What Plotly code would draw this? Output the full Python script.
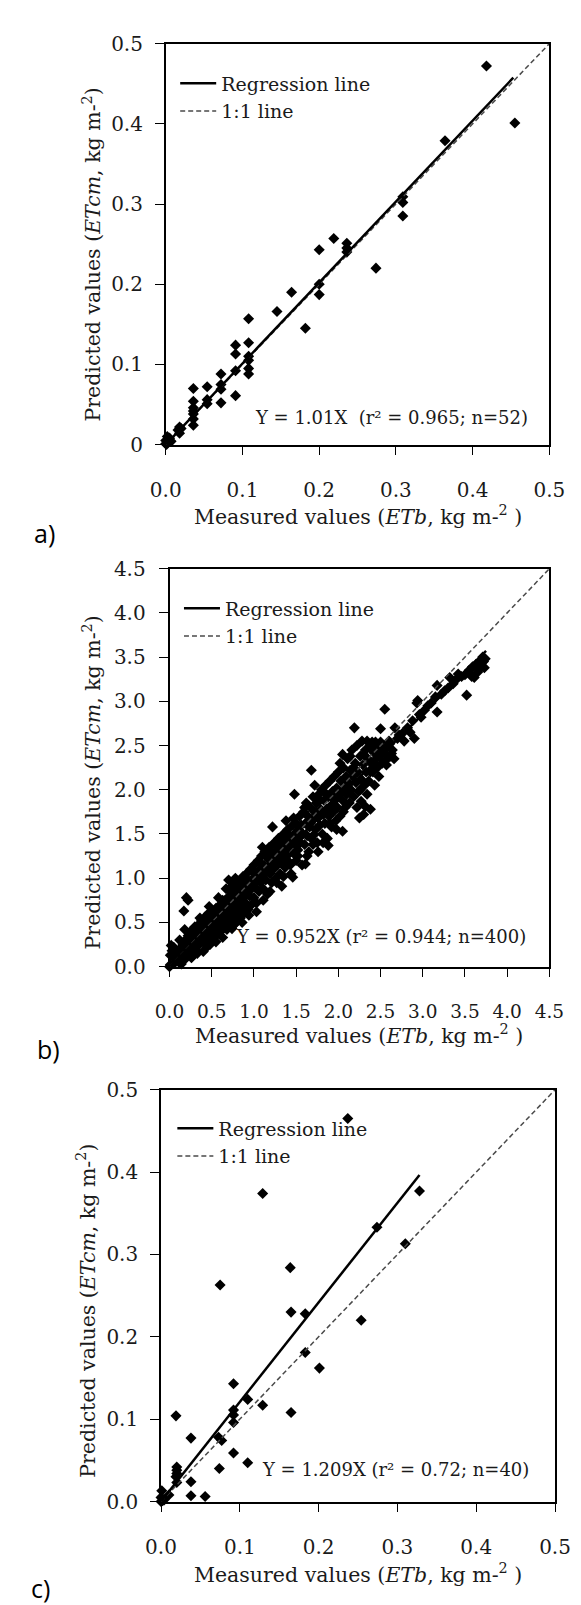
import plotly.graph_objects as go

# ---------------- data ----------------
# panel a (n=52)
a_meas = [0.418, 0.455, 0.364, 0.309, 0.309, 0.219, 0.236, 0.236, 0.200, 0.274,
          0.200, 0.200, 0.164, 0.145, 0.182, 0.108, 0.108, 0.108, 0.108, 0.108,
          0.091, 0.091, 0.091, 0.072, 0.072, 0.072, 0.054, 0.054, 0.036, 0.036,
          0.036, 0.036, 0.036, 0.036, 0.018, 0.016, 0.018, 0.000, 0.000, 0.003,
          0.005, 0.002, 0.007, 0.020, 0.036, 0.054, 0.072, 0.091, 0.108, 0.236,
          0.309, 0.001]
a_pred = [0.472, 0.401, 0.379, 0.309, 0.285, 0.257, 0.251, 0.245, 0.243, 0.220,
          0.200, 0.187, 0.190, 0.166, 0.145, 0.157, 0.127, 0.110, 0.095, 0.088,
          0.124, 0.113, 0.061, 0.088, 0.069, 0.052, 0.072, 0.051, 0.070, 0.054,
          0.046, 0.038, 0.032, 0.024, 0.022, 0.018, 0.014, 0.005, 0.001, 0.003,
          0.008, 0.010, 0.004, 0.020, 0.042, 0.056, 0.075, 0.092, 0.105, 0.240,
          0.302, 0.000]
a_slope = 1.01
a_fit_x = [0.0, 0.453]
a_label = "Y = 1.01X  (r² = 0.965; n=52)"

# panel b (n=400)
b_points = [
    (0.00, 0.00), (0.01, 0.02), (0.02, 0.24), (0.01, 0.13), (0.03, 0.18), (0.05, 0.10), (0.06, 0.04),
    (0.08, 0.12), (0.09, 0.07), (0.10, 0.15), (0.11, 0.05), (0.12, 0.20), (0.13, 0.10), (0.14, 0.03),
    (0.15, 0.14), (0.16, 0.25), (0.17, 0.18), (0.17, 0.63), (0.18, 0.08), (0.19, 0.30), (0.20, 0.78),
    (0.20, 0.22), (0.21, 0.12), (0.22, 0.75), (0.22, 0.35), (0.23, 0.27), (0.24, 0.18), (0.25, 0.40),
    (0.26, 0.31), (0.27, 0.22), (0.28, 0.14), (0.29, 0.36), (0.30, 0.28), (0.30, 0.45),
    (0.31, 0.20), (0.32, 0.38), (0.33, 0.33), (0.34, 0.47), (0.35, 0.25), (0.36, 0.40), (0.37, 0.30),
    (0.38, 0.52), (0.39, 0.35), (0.40, 0.17), (0.40, 0.44), (0.41, 0.28), (0.42, 0.56), (0.43, 0.38),
    (0.44, 0.48), (0.45, 0.33), (0.46, 0.60), (0.47, 0.42), (0.48, 0.25), (0.49, 0.52), (0.50, 0.38),
    (0.51, 0.62), (0.52, 0.32), (0.52, 0.47), (0.53, 0.55), (0.54, 0.42), (0.55, 0.66), (0.56, 0.50),
    (0.57, 0.37), (0.58, 0.58), (0.59, 0.45), (0.60, 0.70), (0.60, 0.52),
    (0.61, 0.40), (0.62, 0.62), (0.63, 0.33), (0.63, 0.75), (0.64, 0.55), (0.65, 0.47), (0.66, 0.68),
    (0.67, 0.88), (0.67, 0.58), (0.68, 0.42), (0.69, 0.78), (0.70, 0.62), (0.70, 0.98), (0.71, 0.52),
    (0.72, 0.72), (0.73, 0.85), (0.74, 0.43), (0.74, 0.65), (0.75, 0.95), (0.76, 0.58), (0.77, 0.78),
    (0.78, 0.70), (0.78, 1.00), (0.79, 0.50), (0.80, 0.88), (0.81, 0.62), (0.82, 0.95), (0.83, 0.75),
    (0.84, 0.55), (0.85, 0.85), (0.86, 0.68), (0.87, 1.02), (0.88, 0.78), (0.88, 0.60), (0.89, 0.92),
    (0.90, 0.72), (0.91, 1.05), (0.92, 0.85), (0.93, 0.65), (0.94, 0.95), (0.95, 0.80), (0.96, 1.10),
    (0.97, 0.70), (0.98, 0.90), (0.99, 1.00), (1.00, 0.78), (1.00, 1.15), (0.97, 0.88), (0.93, 0.98),
    (0.85, 0.95), (0.80, 0.80), (0.75, 0.75), (0.72, 0.60), (0.66, 0.75), (0.90, 0.62),
    (1.01, 0.90), (1.02, 1.05), (1.03, 0.72), (1.04, 0.98), (1.05, 1.20), (1.06, 0.85), (1.07, 1.10),
    (1.08, 0.95), (1.09, 1.25), (1.10, 1.02), (1.11, 0.88), (1.12, 1.15), (1.13, 1.30), (1.14, 0.98),
    (1.15, 1.08), (1.16, 0.82), (1.17, 1.22), (1.18, 1.35), (1.19, 1.05), (1.20, 1.15), (1.21, 0.95),
    (1.22, 1.58), (1.22, 1.28), (1.23, 1.10), (1.24, 1.40), (1.25, 1.20), (1.26, 1.00), (1.27, 1.32),
    (1.28, 1.15), (1.29, 1.45), (1.30, 1.25), (1.31, 1.05), (1.32, 1.38), (1.33, 0.91), (1.34, 1.20),
    (1.35, 1.50), (1.36, 1.30), (1.37, 1.12), (1.38, 1.42), (1.39, 1.25), (1.40, 1.55), (1.41, 1.35),
    (1.42, 1.18), (1.43, 1.48), (1.44, 1.05), (1.45, 1.40), (1.46, 1.60), (1.46, 1.01), (1.47, 1.28),
    (1.48, 1.95), (1.48, 1.50), (1.49, 1.38), (1.50, 1.62), (1.50, 1.20),
    (1.51, 1.45), (1.52, 1.32), (1.53, 1.55), (1.54, 1.70), (1.55, 1.40), (1.56, 1.60), (1.57, 1.15),
    (1.58, 1.50), (1.59, 1.75), (1.60, 1.38), (1.61, 1.16), (1.61, 1.62), (1.62, 1.85), (1.63, 1.48),
    (1.64, 1.70), (1.65, 1.30), (1.66, 1.58), (1.67, 1.80), (1.68, 2.22), (1.68, 1.45), (1.69, 1.65),
    (1.70, 1.92), (1.71, 1.49), (1.72, 1.75), (1.73, 1.55), (1.74, 1.85), (1.75, 1.40), (1.76, 1.30),
    (1.76, 1.68), (1.77, 1.95), (1.78, 1.60), (1.79, 1.78), (1.80, 2.00), (1.81, 1.50), (1.82, 1.72),
    (1.83, 1.88), (1.84, 1.62), (1.85, 2.05), (1.86, 1.78), (1.87, 1.45), (1.88, 1.37), (1.88, 1.92),
    (1.89, 1.70), (1.90, 2.10), (1.91, 1.82), (1.92, 1.58), (1.93, 1.98), (1.94, 1.75), (1.95, 2.15),
    (1.96, 1.88), (1.97, 1.65), (1.98, 2.02), (1.99, 1.80), (2.00, 2.20),
    (2.01, 1.95), (2.02, 1.70), (2.03, 2.10), (2.05, 1.53), (2.05, 1.88), (2.06, 2.25), (2.07, 2.00),
    (2.08, 1.80), (2.09, 2.15), (2.10, 1.95), (2.11, 2.35), (2.12, 2.08), (2.13, 1.85), (2.14, 2.22),
    (2.15, 2.00), (2.16, 2.45), (2.17, 2.15), (2.18, 1.92), (2.19, 2.70), (2.20, 2.30), (2.21, 2.08),
    (2.22, 2.50), (2.23, 2.20), (2.24, 1.98), (2.25, 1.68), (2.26, 2.38), (2.27, 1.87), (2.27, 2.12),
    (2.28, 2.55), (2.29, 2.28), (2.30, 1.72), (2.31, 2.05), (2.32, 1.81), (2.32, 2.45), (2.33, 2.20),
    (2.34, 2.55), (2.35, 2.35), (2.36, 2.10), (2.37, 2.48), (2.38, 1.78), (2.39, 2.30), (2.40, 2.54),
    (2.41, 2.20), (2.42, 2.42), (2.43, 2.05), (2.44, 2.54), (2.45, 2.35), (2.46, 2.25), (2.47, 2.45),
    (2.48, 2.15), (2.49, 2.38), (2.50, 2.54), (2.50, 2.69),
    (2.52, 2.30), (2.54, 2.42), (2.55, 2.91), (2.56, 2.48), (2.58, 2.35), (2.60, 2.55), (2.61, 2.52),
    (2.63, 2.41), (2.64, 2.45), (2.66, 2.35), (2.67, 2.70), (2.70, 2.58), (2.72, 2.62), (2.76, 2.64),
    (2.78, 2.55), (2.82, 2.70), (2.85, 2.65), (2.88, 2.78), (2.90, 2.58), (2.93, 2.98), (2.94, 3.01),
    (2.96, 2.85), (2.98, 2.82),
    (3.02, 2.90), (3.06, 2.95), (3.10, 2.98), (3.15, 3.05), (3.17, 2.88), (3.17, 3.18), (3.22, 3.08),
    (3.26, 3.12), (3.30, 3.15), (3.32, 3.27), (3.36, 3.20), (3.40, 3.25), (3.42, 3.31), (3.46, 3.28),
    (3.50, 3.30), (3.52, 3.07), (3.55, 3.35), (3.58, 3.28), (3.59, 3.39), (3.61, 3.27), (3.63, 3.42),
    (3.65, 3.33), (3.67, 3.44), (3.67, 3.36), (3.69, 3.47), (3.70, 3.40), (3.71, 3.50), (3.72, 3.45),
    (3.73, 3.38), (3.74, 3.48),
    (0.05, 0.22), (0.12, 0.30), (0.18, 0.42), (0.26, 0.10), (0.33, 0.15), (0.36, 0.55), (0.44, 0.22),
    (0.47, 0.68), (0.55, 0.28), (0.58, 0.78), (0.62, 0.48), (0.68, 0.52), (0.71, 0.88), (0.76, 0.47),
    (0.79, 0.92), (0.83, 0.68), (0.86, 0.50), (0.90, 0.98), (0.94, 0.58), (0.98, 1.08), (1.03, 0.62),
    (1.06, 1.18), (1.11, 0.75), (1.15, 1.28), (1.19, 0.85), (1.24, 1.22), (1.27, 0.95), (1.31, 1.42),
    (1.35, 1.02), (1.39, 1.35), (1.43, 1.15), (1.47, 1.68), (1.52, 1.25), (1.56, 1.48), (1.60, 1.80),
    (1.63, 1.25), (1.67, 1.62), (1.70, 1.38), (1.74, 1.72), (1.78, 1.88), (1.82, 1.40), (1.86, 1.95),
    (1.90, 1.62), (1.94, 1.90), (1.98, 1.55), (2.02, 2.30), (2.06, 1.75), (2.10, 2.05), (2.14, 2.38),
    (2.18, 2.25), (2.22, 1.80), (2.26, 2.00), (2.30, 2.40), (2.34, 1.95), (2.38, 2.20), (2.42, 2.30),
    (2.46, 2.50), (2.52, 2.45), (2.57, 2.28), (2.62, 2.38), (2.05, 2.40), (1.72, 2.05), (1.38, 1.65),
    (1.10, 1.35),
]
b_meas = [p[0] for p in b_points]
b_pred = [p[1] for p in b_points]
b_slope = 0.952
b_fit_x = [0.0, 3.75]
b_label = "Y = 0.952X (r² = 0.944; n=400)"

# panel c (n=40)
c_meas = [0.237, 0.129, 0.328, 0.274, 0.310, 0.164, 0.075, 0.165, 0.183, 0.254,
          0.183, 0.201, 0.092, 0.110, 0.129, 0.165, 0.092, 0.092, 0.019, 0.038,
          0.073, 0.077, 0.092, 0.110, 0.074, 0.020, 0.020, 0.020, 0.038, 0.020,
          0.038, 0.056, 0.001, 0.000, 0.004, 0.002, 0.019, 0.092, 0.000, 0.010]
c_pred = [0.465, 0.374, 0.377, 0.333, 0.313, 0.284, 0.263, 0.230, 0.228, 0.220,
          0.181, 0.162, 0.143, 0.124, 0.117, 0.108, 0.111, 0.096, 0.104, 0.077,
          0.078, 0.074, 0.059, 0.047, 0.040, 0.042, 0.038, 0.034, 0.024, 0.023,
          0.007, 0.006, 0.013, 0.000, 0.002, 0.001, 0.030, 0.105, 0.005, 0.008]
c_slope = 1.209
c_fit_x = [0.0, 0.328]
c_label = "Y = 1.209X (r² = 0.72; n=40)"

# ticks
small_vals = [0, 0.1, 0.2, 0.3, 0.4, 0.5]
small_text_1dp = ["0.0", "0.1", "0.2", "0.3", "0.4", "0.5"]
small_text_a_y = ["0", "0.1", "0.2", "0.3", "0.4", "0.5"]
big_vals = [0, 0.5, 1.0, 1.5, 2.0, 2.5, 3.0, 3.5, 4.0, 4.5]
big_text = ["0.0", "0.5", "1.0", "1.5", "2.0", "2.5", "3.0", "3.5", "4.0", "4.5"]

x_title = "Measured values (<i>ETb</i>, kg m-<sup>2</sup> )"
y_title = "Predicted values (<i>ETcm</i>, kg m-<sup>2</sup>)"
panel_letters = ["a)", "b)", "c)"]

# ---------------- figure ----------------
W, H = 581, 1605
FONT = "DejaVu Serif"
TXT = "#1a1a1a"

fig = go.Figure()

panels = [
    dict(meas=a_meas, pred=a_pred, slope=a_slope, fit=a_fit_x, rng=0.5, label=a_label,
         px=(150, 556), py=(24, 431), xt=(small_vals, small_text_1dp), yt=(small_vals, small_text_a_y),
         ystand=8, title_y=503, letter=(22, 521), ytitle=(72, 238), leg=(160, 45), eqy=27, eqr=21,
         xfont=20),
    dict(meas=b_meas, pred=b_pred, slope=b_slope, fit=b_fit_x, rng=4.5, label=b_label,
         px=(154, 556), py=(557, 961), xt=(big_vals, big_text), yt=(big_vals, big_text),
         ystand=9, title_y=1030, letter=(26, 1045), ytitle=(72, 774), leg=(164, 578), eqy=31, eqr=23,
         xfont=18.5),
    dict(meas=c_meas, pred=c_pred, slope=c_slope, fit=c_fit_x, rng=0.5, label=c_label,
         px=(145, 562), py=(1086, 1504), xt=(small_vals, small_text_1dp), yt=(small_vals, small_text_1dp),
         ystand=8, title_y=1577, letter=(17, 1592), ytitle=(66, 1310), leg=(157, 1106), eqy=33, eqr=25,
         xfont=20),
]

annotations = []
for i, p in enumerate(panels):
    n = "" if i == 0 else str(i + 1)
    xa, ya = "x" + n, "y" + n
    leg = "legend" + n
    rng = p["rng"]
    # scatter points
    fig.add_trace(go.Scatter(
        x=p["meas"], y=p["pred"], mode="markers", xaxis=xa, yaxis=ya,
        marker=dict(symbol="diamond", size=8.5, color="black"),
        showlegend=False, cliponaxis=False))
    # 1:1 line
    fig.add_trace(go.Scatter(
        x=[0, rng], y=[0, rng], mode="lines", xaxis=xa, yaxis=ya,
        line=dict(color="#4a4a4a", width=1.5, dash="5px,3px"),
        name="1:1 line", legend=leg, legendrank=2))
    # regression line
    fig.add_trace(go.Scatter(
        x=p["fit"], y=[p["slope"] * v for v in p["fit"]], mode="lines", xaxis=xa, yaxis=ya,
        line=dict(color="black", width=2.5),
        name="Regression line", legend=leg, legendrank=1))

    x0, x1 = p["px"]
    y0, y1 = p["py"]
    axis_common = dict(showline=True, linecolor="black", linewidth=1.6, mirror=True,
                       ticks="outside", ticklen=9, tickwidth=1.4, tickcolor="black",
                       showgrid=False, zeroline=False)
    fig.layout["xaxis" + n] = dict(
        domain=[x0 / W, x1 / W], range=[0, rng], anchor=ya,
        tickmode="array", tickvals=p["xt"][0], ticktext=p["xt"][1],
        tickfont=dict(family=FONT, size=p["xfont"], color=TXT),
        ticklabelstandoff=18, **axis_common)
    fig.layout["yaxis" + n] = dict(
        domain=[1 - y1 / H, 1 - y0 / H], range=[0, rng], anchor=xa,
        tickmode="array", tickvals=p["yt"][0], ticktext=p["yt"][1],
        tickfont=dict(family=FONT, size=20, color=TXT),
        ticklabelstandoff=p["ystand"], **axis_common)

    fig.layout[leg] = dict(
        x=p["leg"][0] / W, y=1 - p["leg"][1] / H, xanchor="left", yanchor="top",
        bgcolor="rgba(0,0,0,0)", borderwidth=0, tracegroupgap=0,
        font=dict(family=FONT, size=19, color=TXT), itemwidth=36)

    # equation
    annotations.append(dict(
        text=p["label"], xref=xa + " domain", yref=ya + " domain",
        x=(x1 - p["eqr"] - x0) / (x1 - x0), y=p["eqy"] / (y1 - y0), xanchor="right", yanchor="middle",
        showarrow=False, font=dict(family=FONT, size=18, color=TXT)))
    # x title
    annotations.append(dict(
        text=x_title, xref="paper", yref="paper", x=((x0 + x1) / 2) / W, y=1 - p["title_y"] / H,
        xanchor="center", yanchor="middle", showarrow=False,
        font=dict(family=FONT, size=20.5, color=TXT)))
    # y title
    annotations.append(dict(
        text=y_title, xref="paper", yref="paper", x=p["ytitle"][0] / W, y=1 - p["ytitle"][1] / H,
        xanchor="center", yanchor="middle", textangle=-90, showarrow=False,
        font=dict(family=FONT, size=20.5, color=TXT)))
    # panel letter
    annotations.append(dict(
        text=panel_letters[i], xref="paper", yref="paper", x=p["letter"][0] / W, y=1 - p["letter"][1] / H,
        xanchor="center", yanchor="middle", showarrow=False,
        font=dict(family="Open Sans", size=25, color="black")))

fig.update_layout(
    width=W, height=H, margin=dict(l=0, r=0, t=0, b=0),
    paper_bgcolor="white", plot_bgcolor="white",
    annotations=annotations, showlegend=True,
)

fig.write_html("out.html")
